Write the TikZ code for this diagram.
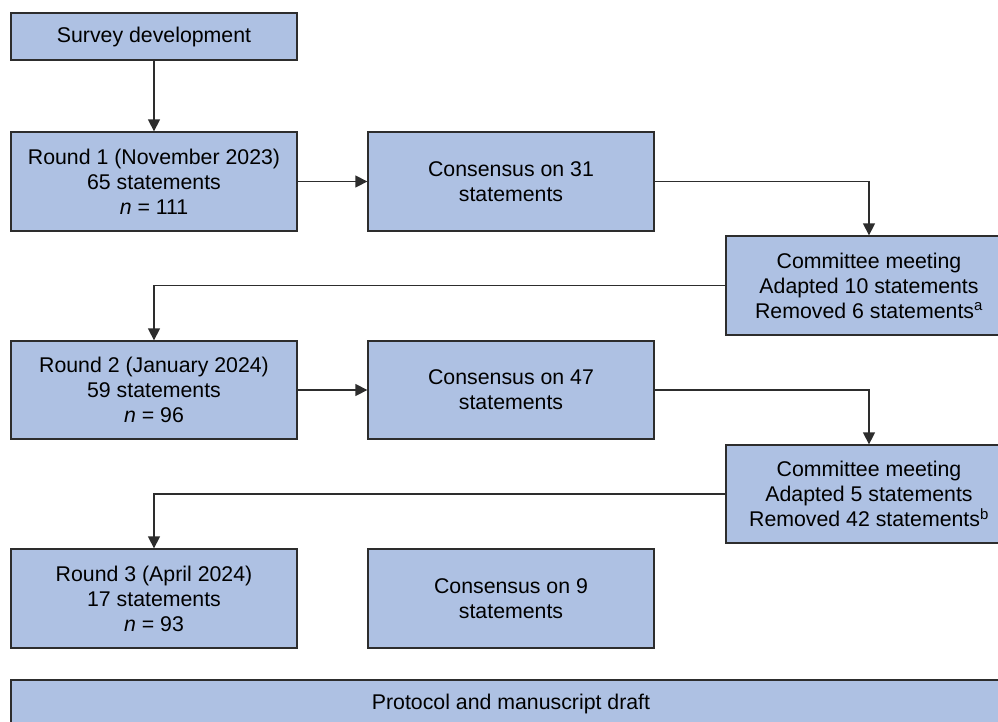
\documentclass[tikz,border=0pt]{standalone}
\usepackage{fontspec}
\setmainfont{Liberation Sans}
\usetikzlibrary{arrows.meta}
\definecolor{boxfill}{RGB}{174,193,227}
\definecolor{boxline}{RGB}{45,45,45}
\tikzset{
  box/.style={draw=boxline, fill=boxfill, line width=1.3pt, align=center,
    minimum width=286pt, inner sep=0pt, font=\fontsize{21.3}{25}\selectfont},
  conn/.style={draw=boxline, line width=1.3pt,
    -{Triangle[length=12pt,width=12pt]}}
}
\begin{document}
\begin{tikzpicture}[x=1pt,y=1pt]
\useasboundingbox (0,0) rectangle (998,-721);
\clip (0,0) rectangle (998,-721);
\node[box, minimum height=47pt] (survey) at (154,-36.5) {Survey development};
\node[box, minimum height=99pt] (r1) at (154,-181.5) {Round 1 (November 2023)\\65 statements\\\textit{n} = 111};
\node[box, minimum height=99pt] (c1) at (511,-181.5) {Consensus on 31\\statements};
\node[box, minimum height=99pt] (m1) at (869,-285.5) {Committee meeting\\Adapted 10 statements\\Removed 6 statements\textsuperscript{a}};
\node[box, minimum height=98pt] (r2) at (154,-390) {Round 2 (January 2024)\\59 statements\\\textit{n} = 96};
\node[box, minimum height=98pt] (c2) at (511,-390) {Consensus on 47\\statements};
\node[box, minimum height=98pt] (m2) at (869,-494) {Committee meeting\\Adapted 5 statements\\Removed 42 statements\textsuperscript{b}};
\node[box, minimum height=99pt] (r3) at (154,-598.5) {Round 3 (April 2024)\\17 statements\\\textit{n} = 93};
\node[box, minimum height=99pt] (c3) at (511,-598.5) {Consensus on 9\\statements};
\node[box, minimum height=50pt, minimum width=1000pt] (proto) at (511,-705) {\raisebox{6pt}{Protocol and manuscript draft}};
\draw[conn] (survey) -- (r1);
\draw[conn] (r1) -- (c1);
\draw[conn] (c1.east) -| (m1.north);
\draw[conn] (m1.west) -| (r2.north);
\draw[conn] (r2) -- (c2);
\draw[conn] (c2.east) -| (m2.north);
\draw[conn] (m2.west) -| (r3.north);
\end{tikzpicture}
\end{document}
